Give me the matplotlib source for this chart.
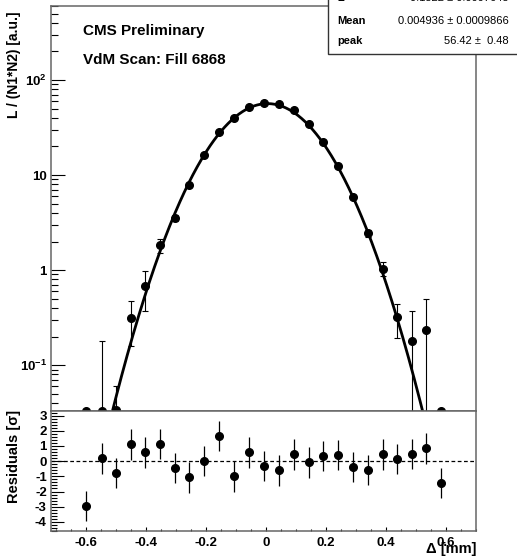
import numpy as np
import matplotlib
matplotlib.use("Agg")
import matplotlib.pyplot as plt
from matplotlib.patches import Rectangle
from matplotlib.ticker import FixedLocator, MultipleLocator, LogLocator, NullFormatter

plt.rcParams['font.family'] = ['Liberation Sans', 'DejaVu Sans']
plt.rcParams['font.weight'] = 'bold'
plt.rcParams['mathtext.fontset'] = 'custom'
plt.rcParams['mathtext.rm'] = 'Liberation Sans:bold'
plt.rcParams['mathtext.bf'] = 'Liberation Sans:bold'
plt.rcParams['mathtext.it'] = 'Liberation Sans:bold'

# scan points: separation, normalised rate, error, fit residual
delta = [-0.600, -0.548, -0.500, -0.451, -0.402, -0.352, -0.304, -0.256, -0.206,
         -0.156, -0.107, -0.057, -0.007, 0.043, 0.093, 0.143, 0.191, 0.240,
         0.289, 0.339, 0.389, 0.436, 0.487, 0.534, 0.583]
rate = [0.0, 0.0, 0.034, 0.315, 0.68, 1.83, 3.55, 7.85, 16.1,
        28.4, 39.8, 52.4, 57.7, 55.5, 48.0, 34.7, 22.2, 12.6,
        5.9, 2.43, 1.04, 0.32, 0.18, 0.235, 0.0]
rate_err = [0.0, 0.18, 0.027, 0.155, 0.31, 0.32, 0.25, 0.3, 0.5,
            0.8, 1.0, 1.2, 1.2, 1.2, 1.2, 1.0, 0.8, 0.5,
            0.3, 0.2, 0.18, 0.125, 0.19, 0.26, 0.0]
resid = [-2.94, 0.18, -0.79, 1.10, 0.57, 1.14, -0.46, -1.07, 0.02,
         1.64, -1.00, 0.57, -0.31, -0.61, 0.44, -0.09, 0.35, 0.39,
         -0.39, -0.57, 0.44, 0.13, 0.47, 0.84, -1.43]
resid_err = [1.0] * len(resid)

# gaussian fit result
fit_peak = 56.42
fit_mean = 0.004936
fit_width = 0.134

stat_rows = [("\u03a3", "0.1522 \u00b1 0.0007643"),
             ("Mean", "0.004936 \u00b1 0.0009866"),
             ("peak", "56.42 \u00b1  0.48")]

ymin, ymax = 0.033, 600

fig = plt.figure(figsize=(5.17, 5.58), dpi=100)
W, H = 517, 558
ax1 = fig.add_axes([51 / W, 1 - 411 / H, 425 / W, 405 / H])
ax2 = fig.add_axes([51 / W, 1 - 531 / H, 425 / W, 120 / H], sharex=ax1)

x = np.array(delta)
y = np.array(rate)
e = np.array(rate_err)
y_plot = np.maximum(y, ymin)
lo = np.maximum(y_plot - np.maximum(y - e, 1e-4), 0)
hi = np.maximum(y + e - y_plot, 0)

ax1.set_yscale('log')
ax1.errorbar(x, y_plot, yerr=[lo, hi], fmt='o', color='black', ms=5.5,
             ecolor='black', elinewidth=0.8, capsize=2, capthick=0.8, zorder=3)
xx = np.linspace(-0.72, 0.72, 600)
ax1.plot(xx, fit_peak * np.exp(-0.5 * ((xx - fit_mean) / fit_width) ** 2),
         color='black', lw=2, zorder=2)
ax1.set_xlim(-0.717, 0.700)
ax1.set_ylim(ymin, ymax)
ax1.yaxis.set_major_locator(FixedLocator([0.1, 1, 10, 100]))
ax1.set_yticklabels([r'$10^{-1}$', '1', '10', r'$10^{2}$'])
ax1.yaxis.set_minor_locator(LogLocator(base=10, subs=np.arange(2, 10)))
ax1.yaxis.set_minor_formatter(NullFormatter())
ax1.tick_params(axis='y', which='major', direction='in', length=10, width=0.8,
                labelsize=9.5, pad=3, right=False)
ax1.tick_params(axis='y', which='minor', direction='in', length=5, width=0.8, right=False)
ax1.tick_params(axis='x', which='both', bottom=False, labelbottom=False)

ax2.errorbar(x, resid, yerr=resid_err, fmt='o', color='black', ms=5.5,
             ecolor='black', elinewidth=0.9, capsize=0, zorder=3)
ax2.axhline(0, color='black', lw=0.9, ls=(0, (3, 2)))
ax2.set_ylim(-4.6, 3.3)
ax2.yaxis.set_major_locator(MultipleLocator(1))
ax2.yaxis.set_minor_locator(MultipleLocator(0.2))
ax2.xaxis.set_major_locator(MultipleLocator(0.2))
ax2.xaxis.set_minor_locator(MultipleLocator(0.05))
ax2.tick_params(axis='y', which='major', direction='in', length=9, width=0.8,
                labelsize=9.5, pad=3)
ax2.tick_params(axis='y', which='minor', direction='in', length=4.5, width=0.8)
ax2.tick_params(axis='x', which='major', direction='in', length=3, width=0.8,
                labelsize=9.5, pad=4)
ax2.tick_params(axis='x', which='minor', direction='in', length=1.5, width=0.8)
ax2.xaxis.set_major_formatter(plt.FuncFormatter(lambda v, p: "0" if abs(v) < 1e-9 else f"{v:.1f}"))
ax2.yaxis.set_major_formatter(plt.FuncFormatter(lambda v, p: f"{int(round(v))}"))

for ax in (ax1, ax2):
    for s in ax.spines.values():
        s.set_color('#666666')
        s.set_linewidth(1.1)

fig.text(83 / W, 1 - 31 / H, "CMS Preliminary", fontsize=11, fontweight='bold',
         ha='left', va='center')
fig.text(83 / W, 1 - 60 / H, "VdM Scan: Fill 6868", fontsize=11, fontweight='bold',
         ha='left', va='center')

fig.text(14 / W, 1 - 11 / H, "L / (N1*N2) [a.u.]", rotation=90, fontsize=10,
         fontweight='bold', ha='center', va='top')
fig.text(14 / W, 1 - 410 / H, "Residuals [\u03c3]", rotation=90, fontsize=10.5,
         fontweight='bold', ha='center', va='top')
fig.text(476 / W, 1 - 549 / H, "\u0394 [mm]", fontsize=10.5, fontweight='bold',
         ha='right', va='center')

box = Rectangle((328 / W, 1 - 54 / H), 0.5, 0.2, transform=fig.transFigure,
                facecolor='white', edgecolor='#333333', lw=1.0, zorder=10)
fig.patches.append(box)
row_y = [-2, 21, 41]
for (lab, val), ry in zip(stat_rows, row_y):
    fig.text(337 / W, 1 - ry / H, lab, fontsize=8, fontweight='bold',
             ha='left', va='center', zorder=11)
    fig.text(509 / W, 1 - ry / H, val, fontsize=8, fontweight='normal',
             ha='right', va='center', zorder=11)

fig.savefig("out.png", dpi=100)
